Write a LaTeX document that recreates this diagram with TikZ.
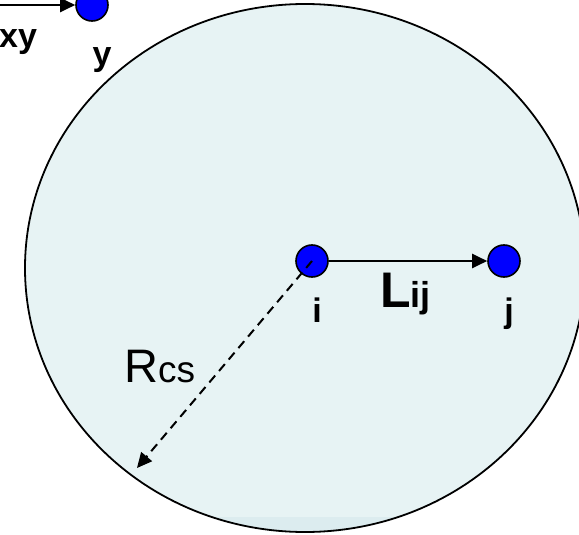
\documentclass[tikz,border=0pt]{standalone}
\usepackage{fontspec}
\setmainfont{Liberation Sans}
\usetikzlibrary{arrows.meta,positioning}
\definecolor{rangefill}{RGB}{231,243,244}
\definecolor{rangeband}{RGB}{220,236,239}
\definecolor{nodeblue}{RGB}{0,0,255}
\tikzset{
  sensor/.style={circle,draw=black,line width=1.6pt,fill=nodeblue,minimum size=32pt,inner sep=0pt},
  lbl/.style={inner sep=0pt,font=\fontsize{34}{34}\selectfont\bfseries},
  link/.style={line width=2pt,-{Triangle[length=15pt,width=14pt]}}
}
\begin{document}
\begin{tikzpicture}[x=1pt,y=-1pt]
        \useasboundingbox (0,0) rectangle (579,535);
        \clip (0,0) rectangle (579,535);
        % communication range
        \fill[rangefill] (305,268) ellipse [x radius=280,y radius=264];
        \begin{scope}
          \clip (305,268) ellipse [x radius=280,y radius=264];
          \fill[rangeband] (0,517) rectangle (579,535);
        \end{scope}
        \draw[line width=1.8pt] (305,268) ellipse [x radius=280,y radius=264];
        % nodes
        \node[sensor] (nodeI) at (312,261) {};
        \node[sensor] (nodeJ) at (504,261) {};
        \node[sensor] (nodeY) at (92,5) {};
        \coordinate (xyStart) at (-2,5);
        \coordinate (rEnd) at (137,468);
        \draw[link] (nodeI) -- (nodeJ);
        \draw[link] (xyStart) -- (nodeY);
        \draw[line width=2pt,dash pattern=on 9pt off 6pt,-{Triangle[length=15pt,width=14pt]}] (nodeI.center) -- (rEnd);
        % labels
        \node[lbl,anchor=base west] (labXY) at (-1,48) {xy};
        \node[lbl,anchor=base] (labY) at (102,66) {y};
        \node[lbl,anchor=base] (labI) at (317,322) {i};
        \node[lbl,anchor=base] (labJ) at (509,322) {j};
        \node[inner sep=0pt,anchor=base west] (labL) at (380,307)
          {\bfseries\fontsize{50}{50}\selectfont L\fontsize{36}{36}\selectfont ij};
        \node[inner sep=0pt,anchor=base west] (labR) at (124,382)
          {\fontsize{47}{47}\selectfont R\fontsize{37}{37}\selectfont cs};
      \end{tikzpicture}
\end{document}
